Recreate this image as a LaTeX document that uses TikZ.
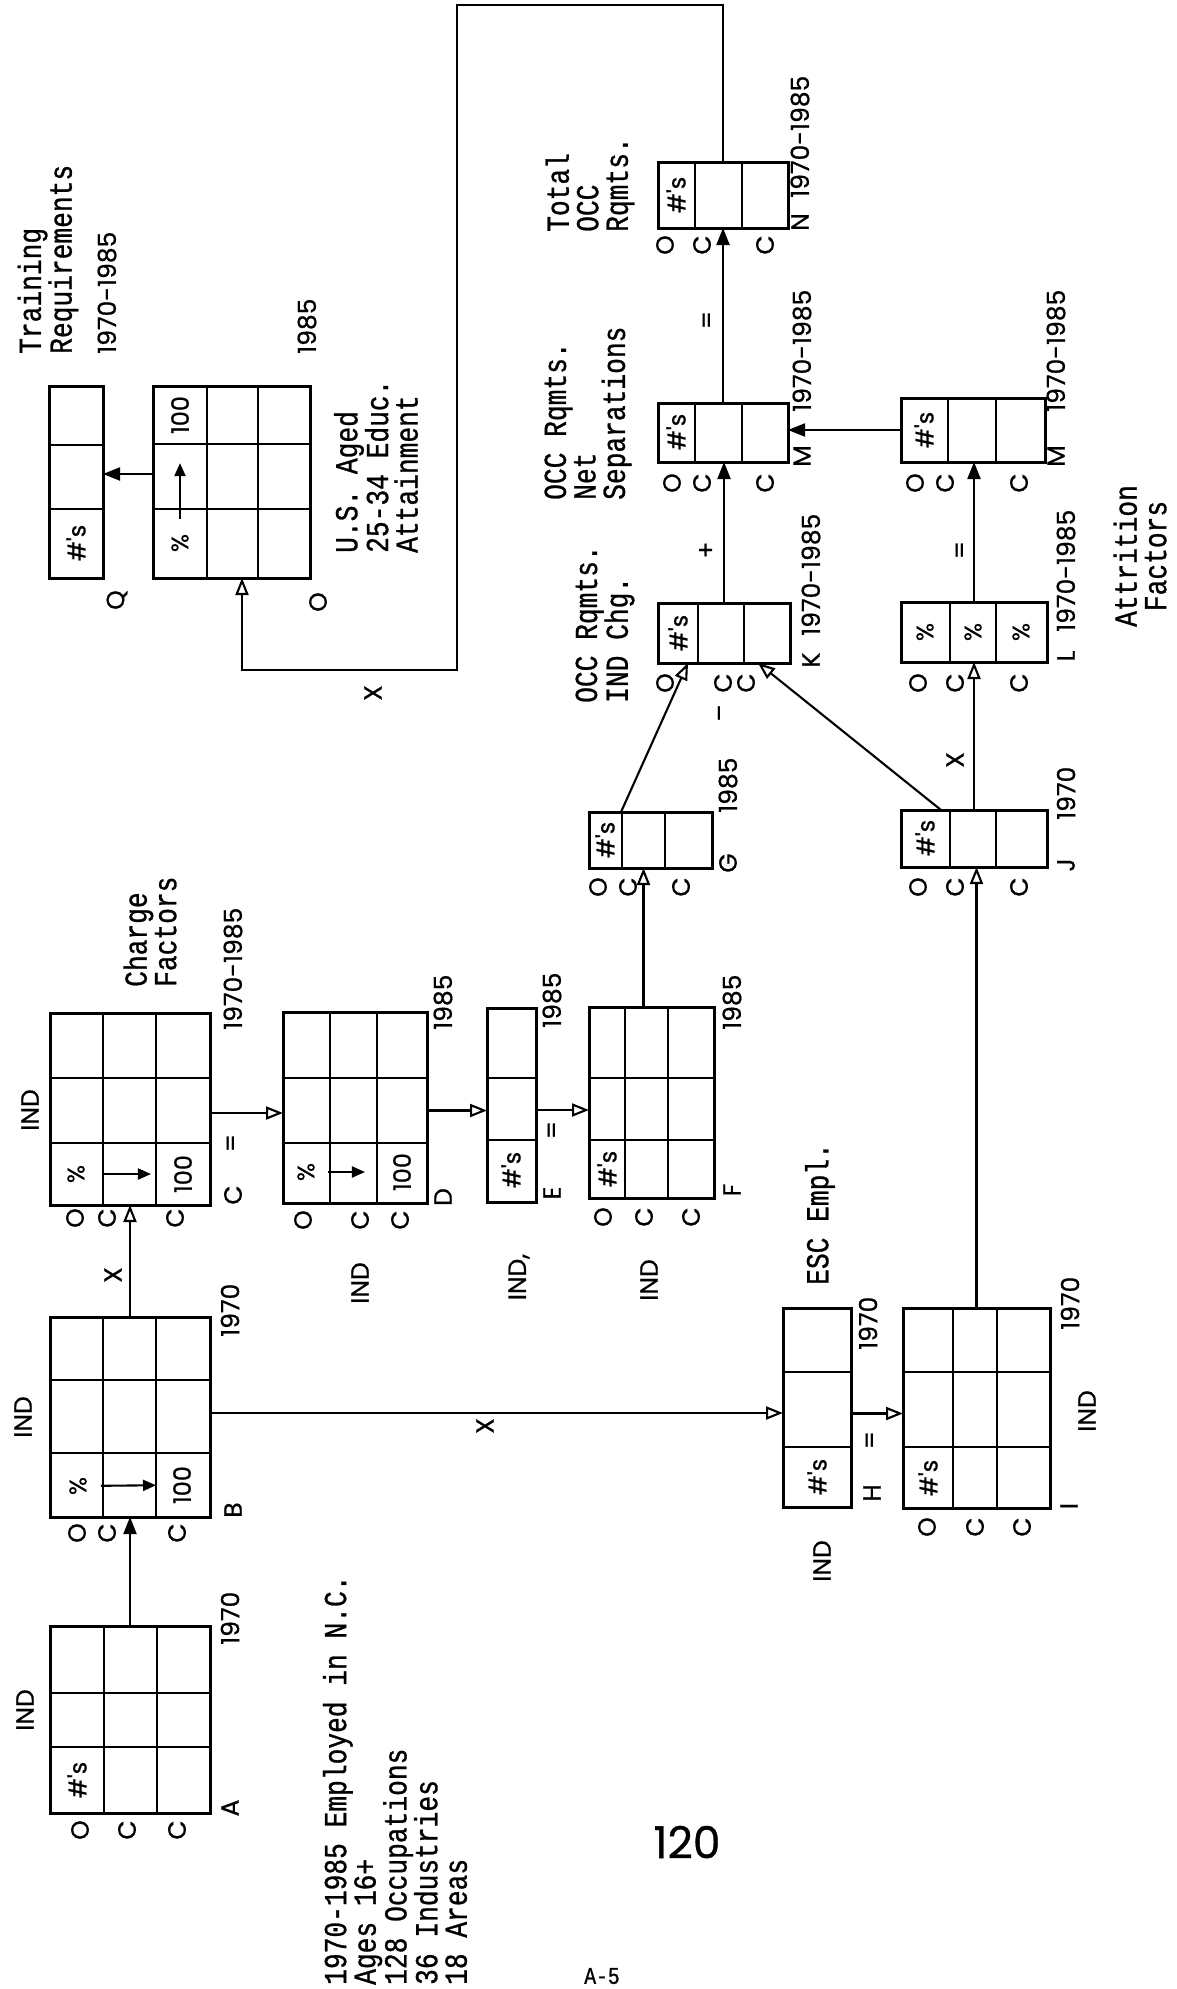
\documentclass[tikz,border=0pt]{standalone}
\usepackage{fontspec}
\usetikzlibrary{fit,arrows.meta}
\newfontfamily\tw[FakeStretch=0.82,FakeBold=0.9]{Liberation Mono}
\newfontfamily\sff[FakeBold=0.7]{Poppins}
\tikzset{
 gbox/.style={draw, line width=3pt, inner sep=0pt, outer sep=0pt},
 gl/.style={line width=2.8pt},
 conn/.style={line width=2.1pt},
 fa/.style={conn, -{Triangle[length=17pt,width=13pt]}},
 oa/.style={conn, -{Triangle[open,length=17pt,width=13pt]}},
 sa/.style={conn, -{Triangle[length=13pt,width=11pt]}},
 slab/.style={font={\sff\fontsize{25}{27}\selectfont}, rotate=90, inner sep=0pt},
 clab/.style={font={\sff\fontsize{24}{26}\selectfont}, rotate=90, inner sep=0pt},
 twb/.style={font={\tw\fontsize{32}{29.5}\selectfont}, rotate=90, inner sep=0pt, align=left, anchor=west},
}
\newcommand\GBox[5]{\node[gbox, fit={(#2,#3) (#4,#5)}] (#1) {};}
\newcommand\VDiv[3]{\draw[gl] (#1,#2) -- (#1,#3);}
\newcommand\HDiv[3]{\draw[gl] (#2,#1) -- (#3,#1);}
\newcommand\Lbl[4]{\node[slab] (#1) at (#2,#3) {#4};}
\newcommand\Yr[4]{\node[slab, anchor=west] (#1) at (#2,#3) {#4};}
\newcommand\OCCl[5]{\node[slab] (#1o) at (#2,#5) {O};\node[slab] (#1c) at (#3,#5) {C};\node[slab] (#1d) at (#4,#5) {C};}
\newcommand\Cell[4]{\node[clab] (#1) at (#2,#3) {#4};}
\begin{document}
\begin{tikzpicture}[x=1pt,y=-1pt]
\fill[white] (0,0) rectangle (1176,1989);
\useasboundingbox (0,0) rectangle (1176,1989);

% ---------- grids ----------
\GBox{gA}{50}{1626}{210}{1813} \VDiv{104}{1626}{1813} \VDiv{157}{1626}{1813} \HDiv{1693}{50}{210} \HDiv{1747}{50}{210}
\GBox{gB}{50}{1317}{210}{1517} \VDiv{103}{1317}{1517} \VDiv{156}{1317}{1517} \HDiv{1380}{50}{210} \HDiv{1453}{50}{210}
\GBox{gC}{50}{1013}{210}{1205} \VDiv{103}{1013}{1205} \VDiv{156}{1013}{1205} \HDiv{1078}{50}{210} \HDiv{1143}{50}{210}
\GBox{gD}{283}{1012}{427}{1203} \VDiv{330}{1012}{1203} \VDiv{377}{1012}{1203} \HDiv{1078}{283}{427} \HDiv{1143}{283}{427}
\GBox{gE}{487}{1008}{536}{1202} \HDiv{1078}{487}{536} \HDiv{1140}{487}{536}
\GBox{gF}{589}{1007}{714}{1198} \VDiv{625}{1007}{1198} \VDiv{668}{1007}{1198} \HDiv{1078}{589}{714} \HDiv{1140}{589}{714}
\GBox{gG}{589}{812}{712}{868} \VDiv{622}{812}{868} \VDiv{665}{812}{868}
\GBox{gH}{783}{1308}{851}{1507} \HDiv{1372}{783}{851} \HDiv{1447}{783}{851}
\GBox{gI}{903}{1308}{1050}{1508} \VDiv{953}{1308}{1508} \VDiv{997}{1308}{1508} \HDiv{1372}{903}{1050} \HDiv{1447}{903}{1050}
\GBox{gJ}{901}{810}{1047}{867} \VDiv{950}{810}{867} \VDiv{996}{810}{867}
\GBox{gK}{658}{603}{790}{663} \VDiv{698}{603}{663} \VDiv{744}{603}{663}
\GBox{gL}{901}{602}{1047}{662} \VDiv{950}{602}{662} \VDiv{996}{602}{662}
\GBox{gMa}{658}{403}{788}{462} \VDiv{695}{403}{462} \VDiv{742}{403}{462}
\GBox{gMb}{901}{398}{1045}{462} \VDiv{948}{398}{462} \VDiv{996}{398}{462}
\GBox{gN}{658}{162}{788}{228} \VDiv{695}{162}{228} \VDiv{742}{162}{228}
\GBox{gQ}{49}{386}{103}{578} \HDiv{445}{49}{103} \HDiv{509}{49}{103}
\GBox{gO}{153}{386}{310}{578} \VDiv{207}{386}{578} \VDiv{258}{386}{578} \HDiv{444}{153}{310} \HDiv{509}{153}{310}

% ---------- cell contents ----------
\Cell{nA}{77}{1780}{\#'s}
\Cell{nQ}{76}{543}{\#'s}
\Cell{nE}{511}{1170}{\#'s}
\Cell{nF}{607}{1169}{\#'s}
\Cell{nG}{605}{840}{\#'s}
\Cell{nH}{817}{1477}{\#'s}
\Cell{nI}{928}{1478}{\#'s}
\Cell{nJ}{925}{838}{\#'s}
\Cell{nK}{678}{633}{\#'s}
\Cell{nMa}{676}{432}{\#'s}
\Cell{nMb}{924}{430}{\#'s}
\Cell{nN}{676}{195}{\#'s}
\Cell{pB}{78}{1486}{\%}   \Cell{hB}{182}{1485}{100}
\Cell{pC}{76}{1174}{\%}   \Cell{hC}{183}{1174}{100}
\Cell{pD}{306}{1172}{\%}  \Cell{hD}{402}{1172}{100}
\Cell{pO}{180}{543}{\%}   \Cell{hO}{180}{415}{100}
\Cell{pL1}{925}{632}{\%}  \Cell{pL2}{973}{632}{\%}  \Cell{pL3}{1021}{632}{\%}

\draw[sa, shorten <=14pt, shorten >=17pt] (pB) -- (hB);
\draw[sa, shorten <=17pt, shorten >=23pt] (pC) -- (hC);
\draw[sa, shorten <=13pt, shorten >=28pt] (pD) -- (hD);
\draw[sa, shorten <=15pt, shorten >=29pt] (pO) -- (hO);

% ---------- grid names ----------
\Lbl{lA}{230}{1808}{A} \Lbl{lB}{233}{1510}{B} \Lbl{lC}{233}{1195}{C} \Lbl{lD}{443}{1197}{D}
\Lbl{lE}{552}{1193}{E} \Lbl{lF}{732}{1190}{F} \Lbl{lG}{728}{863}{G} \Lbl{lH}{872}{1493}{H}
\Lbl{lI}{1069}{1506}{I} \Lbl{lJ}{1066}{865}{J} \Lbl{lK}{811}{660}{K} \Lbl{lL}{1066}{656}{L}
\Lbl{lMa}{802}{456}{M} \Lbl{lMb}{1056}{456}{M} \Lbl{lN}{800}{222}{N} \Lbl{lQ}{117}{600}{Q}
\Lbl{lO}{318}{602}{O}

% ---------- years ----------
\Yr{yA}{230}{1645}{1970} \Yr{yB}{230}{1337}{1970} \Yr{yC}{233}{1030}{1970-1985}
\Yr{yD}{443}{1030}{1985} \Yr{yE}{552}{1028}{1985} \Yr{yF}{732}{1030}{1985}
\Yr{yG}{728}{813}{1985} \Yr{yH}{868}{1350}{1970} \Yr{yI}{1070}{1330}{1970}
\Yr{yJ}{1066}{820}{1970} \Yr{yK}{811}{636}{1970-1985} \Yr{yL}{1066}{632}{1970-1985}
\Yr{yMa}{802}{412}{1970-1985} \Yr{yMb}{1056}{412}{1970-1985} \Yr{yN}{800}{198}{1970-1985}
\Yr{yO}{307}{354}{1985} \Yr{yT}{107}{354}{1970-1985}

% ---------- IND labels ----------
\Lbl{iA}{25}{1710}{IND} \Lbl{iB}{23}{1417}{IND} \Lbl{iC}{30}{1110}{IND} \Lbl{iD}{360}{1283}{IND}
\Lbl{iE}{519}{1277}{IND,} \Lbl{iF}{649}{1280}{IND} \Lbl{iH}{822}{1561}{IND} \Lbl{iI}{1087}{1411}{IND}

% ---------- O C C labels ----------
\OCCl{kA}{80}{127}{177}{1830}
\OCCl{kB}{77}{107}{177}{1533}
\OCCl{kC}{75}{107}{175}{1218}
\OCCl{kD}{303}{360}{400}{1220}
\OCCl{kF}{603}{644}{691}{1217}
\OCCl{kG}{598}{628}{681}{887}
\OCCl{kI}{927}{975}{1022}{1527}
\OCCl{kJ}{918}{955}{1019}{887}
\OCCl{kK}{665}{723}{746}{683}
\OCCl{kL}{918}{955}{1019}{683}
\OCCl{kMa}{672}{702}{765}{483}
\OCCl{kMb}{915}{945}{1019}{483}
\OCCl{kN}{665}{702}{765}{245}

% ---------- operators ----------
\Lbl{o1}{113}{1275}{X} \Lbl{o2}{233}{1143}{=} \Lbl{o3}{554}{1130}{=} \Lbl{o4}{485}{1426}{X}
\Lbl{o5}{872}{1440}{=} \Lbl{o6}{955}{760}{X} \Lbl{o7}{962}{550}{=} \Lbl{o8}{707}{550}{+}
\Lbl{o9}{723}{713}{–} \Lbl{o10}{709}{320}{=} \Lbl{o11}{373}{693}{X}

% ---------- typewritten texts ----------
\node[twb] (tTR) at (48,354) {Training\\Requirements};
\node[twb] (tUS) at (376,553) {U.S. Aged\\25-34 Educ.\\Attainment};
\node[twb] (tTot) at (590,232) {Total\\OCC\\Rqmts.};
\node[twb] (tNet) at (588,500) {OCC Rqmts.\\Net\\Separations};
\node[twb] (tChg) at (605,703) {OCC Rqmts.\\IND Chg.};
\node[twb] (tCF) at (150,987) {Charge\\Factors};
\node[twb] (tESC) at (820,1285) {ESC Empl.};
\node[twb, align=center, anchor=center] (tAtt) at (1140,556) {Attrition\\Factors};
\node[twb] (tEmp) at (395,1985) {1970-1985 Employed in N.C.\\Ages 16+\\128 Occupations\\36 Industries\\18 Areas};
\node[font={\sff\fontsize{44}{44}\selectfont}, inner sep=0pt] (pg) at (687,1842) {120};
\node[font={\tw\fontsize{24}{24}\selectfont}, inner sep=0pt] (pgn) at (602,1976) {A-5};

% ---------- connectors ----------
\coordinate (f1) at (457,5);
\coordinate (f2) at (242,670);
\draw[fa] (gA.north) -- (gB.south);
\draw[oa] (gB.north) -- (gC.south);
\draw[oa] ([yshift=-4pt]gC.east) -- ([yshift=-4pt]gC.east -| gD.west);
\draw[oa] ([yshift=-3pt]gD.east) -- ([yshift=-3pt]gD.east -| gE.west);
\draw[oa] ([yshift=-5pt]gE.east) -- ([yshift=-5pt]gE.east -| gF.west);
\draw[oa] ([xshift=-8pt]gF.north) -- ([xshift=-8pt]gF.north |- gG.south);
\draw[oa] ([xshift=32pt]gG.north west) -- ([xshift=30pt]gK.south west);
\draw[oa] ([xshift=40pt]gJ.north west) -- ([xshift=100pt]gK.south west);
\draw[fa] (gK.north) -- (gK.north |- gMa.south);
\draw[fa] (gMa.north) -- (gMa.north |- gN.south);
\draw[oa] (gN.north) -- (gN.north |- f1) -- (f1) -- (f1 |- f2) -- (f2) -- (f2 |- gO.south);
\draw[fa] ([yshift=8pt]gO.west) -- ([yshift=8pt]gO.west -| gQ.east);
\draw[oa] ([yshift=4pt]gB.east) -- ([yshift=4pt]gB.east -| gH.west);
\draw[oa] ([yshift=-6pt]gH.east) -- ([yshift=-6pt]gH.east -| gI.west);
\draw[oa] (gI.north) -- (gI.north |- gJ.south);
\draw[oa] (gJ.north) -- (gJ.north |- gL.south);
\draw[fa] (gL.north) -- (gL.north |- gMb.south);
\draw[fa] (gMb.west) -- (gMb.west -| gMa.east);
\end{tikzpicture}
\end{document}
